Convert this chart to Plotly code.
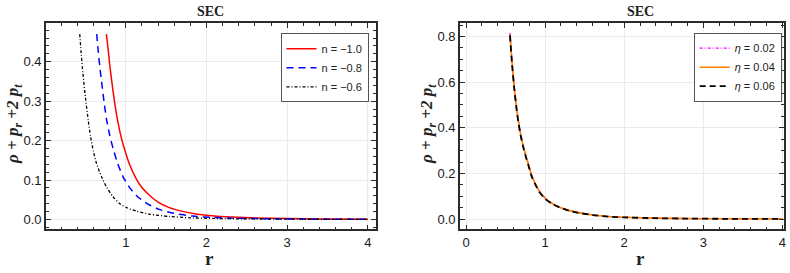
import plotly.graph_objects as go

# ---------------- data ----------------
# Left panel: SEC for different n
r_n10 = [0.76, 0.78, 0.80, 0.83, 0.86, 0.90, 0.95, 1.0, 1.05, 1.13, 1.2, 1.3, 1.4, 1.54, 1.7, 1.87, 2.1, 2.4, 2.8, 3.2, 3.6, 4.0]
v_n10 = [0.47, 0.435, 0.395, 0.345, 0.30, 0.25, 0.203, 0.168, 0.138, 0.103, 0.081, 0.060, 0.044, 0.030, 0.0205, 0.014, 0.009, 0.0053, 0.0029, 0.0017, 0.0011, 0.0007]

r_n08 = [0.64, 0.66, 0.68, 0.70, 0.73, 0.76, 0.80, 0.843, 0.90, 0.967, 1.05, 1.152, 1.28, 1.42, 1.6, 1.83, 2.1, 2.4, 2.8, 3.2, 3.6, 4.0]
v_n08 = [0.47, 0.425, 0.385, 0.35, 0.30, 0.256, 0.215, 0.180, 0.142, 0.108, 0.080, 0.057, 0.038, 0.025, 0.0155, 0.0085, 0.005, 0.003, 0.0017, 0.001, 0.0006, 0.0004]

r_n06 = [0.43, 0.45, 0.47, 0.50, 0.535, 0.564, 0.60, 0.638, 0.70, 0.762, 0.84, 0.926, 1.02, 1.132, 1.3, 1.54, 1.8, 2.1, 2.5, 3.0, 3.5, 4.0]
v_n06 = [0.47, 0.415, 0.37, 0.31, 0.252, 0.21, 0.172, 0.142, 0.108, 0.082, 0.058, 0.040, 0.029, 0.021, 0.013, 0.0075, 0.0042, 0.0025, 0.0014, 0.0007, 0.0004, 0.0002]

# Right panel: SEC for different eta
r_eta = [0.556, 0.58, 0.61, 0.64, 0.661, 0.69, 0.725, 0.76, 0.788, 0.83, 0.872, 0.93, 1.0, 1.09, 1.19, 1.3, 1.42, 1.6, 1.8, 2.0, 2.4, 2.8, 3.3, 4.0]
v_eta002 = [0.815, 0.698, 0.582, 0.489, 0.436, 0.376, 0.322, 0.276, 0.243, 0.193, 0.159, 0.122, 0.092, 0.069, 0.052, 0.0385, 0.0285, 0.0183, 0.0112, 0.0076, 0.0039, 0.0021, 0.0011, 0.0005]
v_eta004 = [0.81, 0.693, 0.577, 0.484, 0.432, 0.372, 0.318, 0.272, 0.240, 0.190, 0.157, 0.12, 0.091, 0.068, 0.051, 0.038, 0.028, 0.018, 0.011, 0.0075, 0.0038, 0.0021, 0.0011, 0.0005]
v_eta006 = [0.805, 0.687, 0.571, 0.478, 0.426, 0.367, 0.313, 0.268, 0.236, 0.187, 0.154, 0.117, 0.089, 0.066, 0.050, 0.037, 0.0273, 0.0176, 0.0107, 0.0073, 0.0037, 0.0020, 0.0010, 0.0005]

left_labels = ["n = \u22121.0", "n = \u22120.8", "n = \u22120.6"]
right_labels = ["<i>\u03b7</i> = 0.02", "<i>\u03b7</i> = 0.04", "<i>\u03b7</i> = 0.06"]

W, H = 790, 273


def px(x):
    return x / W


def py(y):
    return 1 - y / H


fig = go.Figure()

# left traces
fig.add_trace(go.Scatter(x=r_n10, y=v_n10, mode="lines", name=left_labels[0],
                         line=dict(color="#ff0000", width=1.5, shape="spline", smoothing=0.6),
                         xaxis="x", yaxis="y", legend="legend"))
fig.add_trace(go.Scatter(x=r_n08, y=v_n08, mode="lines", name=left_labels[1],
                         line=dict(color="#0000ff", width=1.5, dash="7px,5px", shape="spline", smoothing=0.6),
                         xaxis="x", yaxis="y", legend="legend"))
fig.add_trace(go.Scatter(x=r_n06, y=v_n06, mode="lines", name=left_labels[2],
                         line=dict(color="#000000", width=1.3, dash="3px,2px,1px,2px", shape="spline", smoothing=0.6),
                         xaxis="x", yaxis="y", legend="legend"))

# right traces
fig.add_trace(go.Scatter(x=r_eta, y=v_eta002, mode="lines", name=right_labels[0],
                         line=dict(color="#ff00ff", width=1.3, dash="3px,2px,1px,2px", shape="spline", smoothing=0.6),
                         xaxis="x2", yaxis="y2", legend="legend2"))
fig.add_trace(go.Scatter(x=r_eta, y=v_eta004, mode="lines", name=right_labels[1],
                         line=dict(color="#ff8000", width=1.6, shape="spline", smoothing=0.6),
                         xaxis="x2", yaxis="y2", legend="legend2"))
fig.add_trace(go.Scatter(x=r_eta, y=v_eta006, mode="lines", name=right_labels[2],
                         line=dict(color="#000000", width=1.8, dash="6px,4px", shape="spline", smoothing=0.6),
                         xaxis="x2", yaxis="y2", legend="legend2"))

tickfont = dict(family="Liberation Sans, Arial, sans-serif", size=13, color="#1a1a1a")
frame = dict(showline=True, linecolor="#2b2b2b", linewidth=1.6, mirror="allticks",
             ticks="inside", ticklen=5, tickwidth=1, tickcolor="#2b2b2b",
             showgrid=True, gridcolor="#ebebeb", gridwidth=1, zeroline=False,
             tickfont=tickfont, automargin=False)
minor = dict(ticks="inside", ticklen=3, tickcolor="#2b2b2b", showgrid=False, tick0=0)

ytop = py(23.3)
ybot = py(229.3)

fig.update_layout(
    width=W, height=H,
    margin=dict(l=0, r=0, t=0, b=0, autoexpand=False),
    paper_bgcolor="white", plot_bgcolor="white",
    showlegend=True,
    xaxis=dict(domain=[px(46), px(376)], range=[0.012, 4.1], tick0=0, dtick=1,
               minor=dict(dtick=0.2, **minor), anchor="y", **frame),
    yaxis=dict(domain=[ybot, ytop], range=[-0.025, 0.4975], tick0=0, dtick=0.1, tickformat=".1f",
               minor=dict(dtick=0.02, **minor), anchor="x", **frame),
    xaxis2=dict(domain=[px(460), px(784)], range=[-0.076, 4.02], tick0=0, dtick=1,
                minor=dict(dtick=0.2, **minor), anchor="y2", **frame),
    yaxis2=dict(domain=[ybot, ytop], range=[-0.045, 0.858], tick0=0, dtick=0.2, tickformat=".1f",
                minor=dict(dtick=0.05, **minor), anchor="x2", **frame),
    legend=dict(x=px(368.5), y=py(33.3), xanchor="right", yanchor="top",
                bgcolor="white", bordercolor="#555555", borderwidth=1,
                font=dict(family="Liberation Sans, Arial, sans-serif", size=11, color="#222"),
                itemwidth=30, tracegroupgap=0),
    legend2=dict(x=px(781.7), y=py(32.7), xanchor="right", yanchor="top",
                 bgcolor="white", bordercolor="#555555", borderwidth=1,
                 font=dict(family="Liberation Sans, Arial, sans-serif", size=11, color="#222"),
                 itemwidth=30, tracegroupgap=0),
)

serif = "Liberation Serif, Times New Roman, serif"


def label(text, x, y, size, angle=0):
    return dict(text=text, x=px(x), y=py(y), xref="paper", yref="paper",
                xanchor="center", yanchor="middle", textangle=angle,
                showarrow=False, font=dict(family=serif, size=size, color="#222"))


ylab = "<b><i>\u03c1 + p<sub>r</sub> +2 p<sub>t</sub></i></b>"
ann = [
    label("<b>SEC</b>", 211, 11.5, 14),
    label("<b>SEC</b>", 640, 11.5, 14),
    label("<b>r</b>", 210, 258, 19),
    label("<b>r</b>", 640, 258, 19),
    label(ylab, 14, 124, 17, -90),
    label(ylab, 428, 124, 17, -90),
]
fig.update_layout(annotations=ann)

# remove the page's default body margin so the figure fills the window exactly
fig.write_html("out.html", config={"displayModeBar": False},
               post_script="document.body.style.margin='0';")
